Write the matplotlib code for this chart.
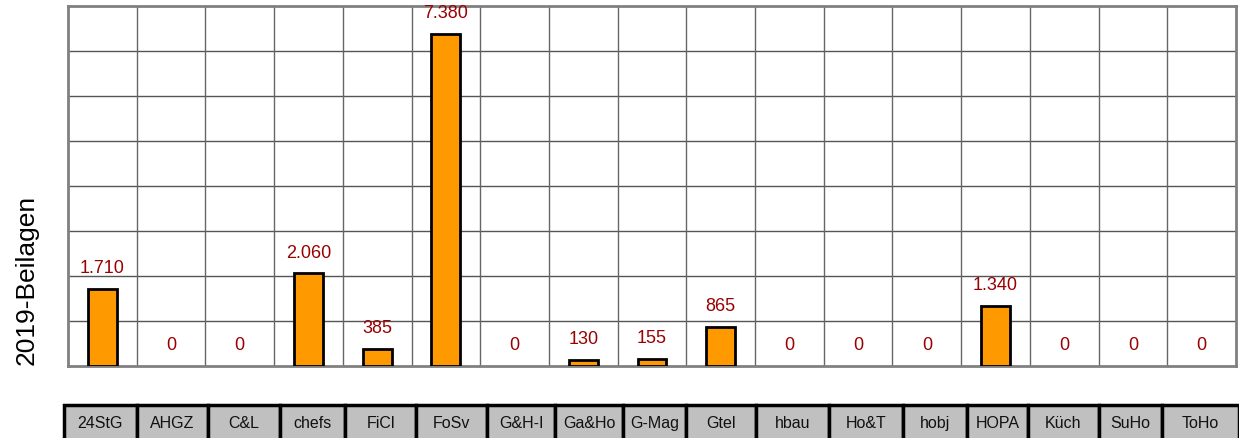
import matplotlib
matplotlib.use("Agg")
import matplotlib.pyplot as plt
from matplotlib.patches import Rectangle
import numpy as np

plt.rcParams['font.family'] = ['Liberation Sans', 'DejaVu Sans']

categories = ["24StG", "AHGZ", "C&L", "chefs", "FiCl", "FoSv", "G&H-I", "Ga&Ho",
              "G-Mag", "Gtel", "hbau", "Ho&T", "hobj", "HOPA", "Küch", "SuHo", "ToHo"]
values = [1710, 0, 0, 2060, 385, 7380, 0, 130, 155, 865, 0, 0, 0, 1340, 0, 0, 0]
y_label = "2019-Beilagen"

# table cell boundaries in figure pixels (layout)
cell_edges = [64, 137, 208, 280, 345, 416, 487, 555, 623, 686, 756, 829, 903,
              967, 1028, 1099, 1162, 1239]

W, H = 1239, 439
fig = plt.figure(figsize=(W / 100, H / 100), dpi=100)
ax = fig.add_axes([68 / W, 1 - 367 / H, (1236 - 68) / W, 360 / H])

n = len(categories)
x = np.arange(n)
edge_lw = [2 if v > 0 else 0 for v in values]
ax.bar(x, values, width=0.42, color="#FF9900", edgecolor="black",
       linewidth=edge_lw, zorder=3)
ax.set_xlim(-0.5, n - 0.5)
ax.set_ylim(0, 8000)

for i, v in enumerate(values):
    label = f"{v:,}".replace(",", ".")
    ax.annotate(label, (i, v), xytext=(0, 15.3), textcoords="offset points",
                ha="center", va="center", fontsize=13, color="#990000",
                annotation_clip=False)

# grid
for yv in range(1000, 8000, 1000):
    ax.axhline(yv, color="#555555", linewidth=1, zorder=1)
for k in range(1, n):
    ax.axvline(k - 0.5, color="#666666", linewidth=1, zorder=1)

ax.set_xticks([])
ax.set_yticks([])
for s in ax.spines.values():
    s.set_color("#808080")
    s.set_linewidth(2)

fig.text(27 / W, 1 - 280 / H, y_label, rotation=90, ha="center", va="center",
         fontsize=19, color="black")

# category table at bottom
tax = fig.add_axes([0, 0, 1, 1])
tax.set_xlim(0, W)
tax.set_ylim(H, 0)
tax.axis("off")
top, bottom = 406, 442
for i, cat in enumerate(categories):
    x0, x1 = cell_edges[i], cell_edges[i + 1]
    tax.add_patch(Rectangle((x0, top), x1 - x0, bottom - top, facecolor="#C0C0C0",
                            edgecolor="black", linewidth=2.5, clip_on=False))
    tax.text((x0 + x1) / 2, (top + 439) / 2 + 1.5, cat, ha="center", va="center",
             fontsize=11.5, color="#111111")

fig.savefig("out.png", dpi=100)
